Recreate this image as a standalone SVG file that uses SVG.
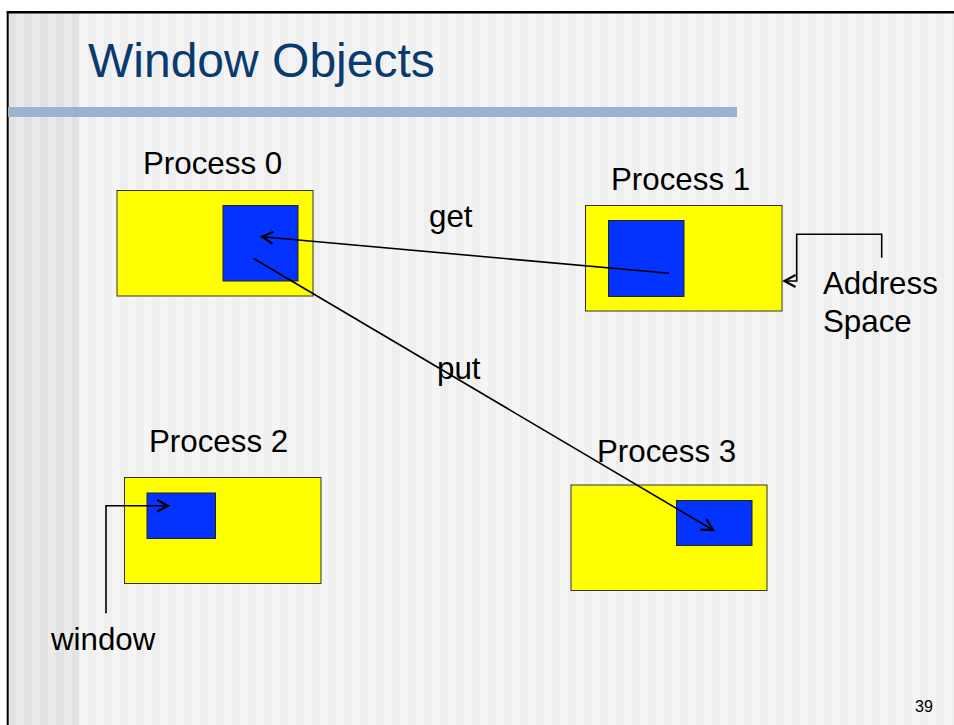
<svg xmlns="http://www.w3.org/2000/svg" width="954" height="725" viewBox="0 0 954 725">
  <defs>
    <pattern id="stripes" x="0" y="0" width="16" height="16" patternUnits="userSpaceOnUse">
      <rect x="0" y="0" width="8" height="16" fill="#f5f5f5"/>
      <rect x="8" y="0" width="8" height="16" fill="#efefef"/>
    </pattern>
    <pattern id="stripesDark" x="0" y="0" width="16" height="16" patternUnits="userSpaceOnUse">
      <rect x="0" y="0" width="8" height="16" fill="#ebebeb"/>
      <rect x="8" y="0" width="8" height="16" fill="#e2e2e2"/>
    </pattern>
    <marker id="arrow" markerUnits="userSpaceOnUse" markerWidth="20" markerHeight="20" viewBox="-14 -10 20 20" refX="0" refY="0" orient="auto">
      <path d="M-11,-6 L0,0 L-11,6" fill="none" stroke="#000" stroke-width="2.2" stroke-linejoin="miter"/>
    </marker>
    <style>
      .label { font-family: "Liberation Sans", Arial, sans-serif; font-size: 31.3px; fill: #000; }
      .outer { fill: #ffff00; stroke: #333; stroke-width: 1; }
      .inner { fill: #0433ff; stroke: #222; stroke-width: 1; }
      .conn { fill: none; stroke: #000; stroke-width: 1.6; }
    </style>
  </defs>

  <!-- background -->
  <rect x="0" y="0" width="954" height="725" fill="#ffffff"/>
  <rect x="8" y="12" width="946" height="713" fill="url(#stripes)"/>
  <rect x="9" y="12" width="70" height="713" fill="url(#stripesDark)"/>
  <line x1="7.7" y1="11" x2="7.7" y2="725" stroke="#000" stroke-width="2"/>
  <line x1="6.7" y1="12.3" x2="954" y2="12.3" stroke="#000" stroke-width="2.4"/>

  <!-- title -->
  <text x="88" y="77" font-family="Liberation Sans, Arial, sans-serif" font-size="48" fill="#0a3b6e">Window Objects</text>
  <rect x="8" y="107" width="729" height="10" fill="#98b4cf"/>

  <g id="process0">
    <text class="label" x="143" y="174">Process 0</text>
    <rect class="outer" x="117" y="190.5" width="196" height="105.5"/>
    <rect class="inner" x="223" y="205.5" width="75" height="75.5"/>
  </g>

  <g id="process1">
    <text class="label" x="611" y="190">Process 1</text>
    <rect class="outer" x="585.5" y="205.5" width="196.5" height="105.5"/>
    <rect class="inner" x="608.5" y="220.5" width="75.5" height="76"/>
  </g>

  <g id="process2">
    <text class="label" x="149" y="452">Process 2</text>
    <rect class="outer" x="124.5" y="477.5" width="196.5" height="106"/>
    <rect class="inner" x="147" y="493" width="68.5" height="45.5"/>
  </g>

  <g id="process3">
    <text class="label" x="597" y="462">Process 3</text>
    <rect class="outer" x="571" y="485" width="196" height="105.5"/>
    <rect class="inner" x="676.5" y="500.5" width="75.5" height="45"/>
  </g>

  <g id="labels">
    <text class="label" x="429" y="227">get</text>
    <text class="label" x="437" y="379">put</text>
    <text class="label" x="823" y="294">Address</text>
    <text class="label" x="823" y="332">Space</text>
    <text class="label" x="51" y="650">window</text>
    <text x="915" y="712" font-family="Liberation Sans, Arial, sans-serif" font-size="16" fill="#000">39</text>
  </g>

  <g id="connectors">
    <line class="conn" x1="669" y1="273.3" x2="262" y2="236.7" marker-end="url(#arrow)"/>
    <line class="conn" x1="253.3" y1="258.3" x2="713" y2="530" marker-end="url(#arrow)"/>
    <polyline class="conn" points="881.7,257.7 881.7,234.3 796.7,234.3 796.7,281 784.5,281" marker-end="url(#arrow)"/>
    <polyline class="conn" points="106,613.3 106,505.7 168,505.7" marker-end="url(#arrow)"/>
  </g>
</svg>
